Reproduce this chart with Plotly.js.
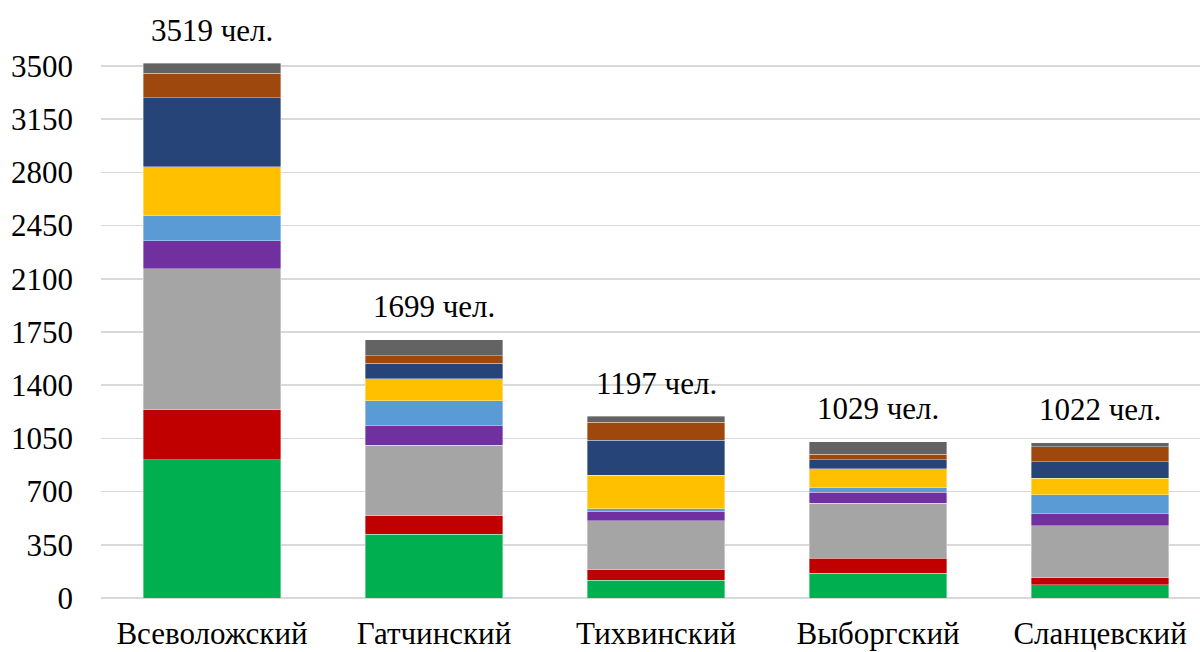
<!DOCTYPE html>
<html>
<head>
<meta charset="utf-8">
<script src="https://cdn.plot.ly/plotly-3.0.1.min.js"></script>
<style>html,body{margin:0;padding:0;background:#fff;}#chart{width:1200px;height:652px;}</style>
</head>
<body>
<div id="chart"></div>
<script>
const categories = ["Всеволожский", "Гатчинский", "Тихвинский", "Выборгский", "Сланцевский"];
const totals = [3519, 1699, 1197, 1029, 1022];
const seriesNames = ["Категория 1", "Категория 2", "Категория 3", "Категория 4", "Категория 5", "Категория 6", "Категория 7", "Категория 8", "Категория 9"];
const s1 = [908, 421, 116, 162, 88];
const s2 = [331, 120, 70, 99, 46];
const s3 = [927, 463, 321, 362, 342];
const s4 = [185, 130, 61, 74, 79];
const s5 = [164, 164, 18, 29, 125];
const s6 = [321, 145, 223, 125, 107];
const s7 = [456, 101, 228, 59, 110];
const s8 = [160, 50, 119, 35, 98];
const s9 = [67, 105, 41, 84, 27];
const yTicks = [0, 350, 700, 1050, 1400, 1750, 2100, 2450, 2800, 3150, 3500];

const colors = ["#00B050", "#C00000", "#A5A5A5", "#7030A0", "#5B9BD5", "#FFC000", "#264478", "#9E480E", "#636363"];
const series = [s1, s2, s3, s4, s5, s6, s7, s8, s9];
const FONT = "Liberation Serif";

const traces = series.map((vals, i) => ({
  type: 'bar',
  name: seriesNames[i],
  x: categories,
  y: vals,
  marker: {color: colors[i], line: {color: 'rgba(255,255,255,0.45)', width: 0.8}},
  hoverinfo: 'x+y+name'
}));

const annotations = categories.map((c, i) => ({
  x: c, y: totals[i], xref: 'x', yref: 'y',
  text: totals[i] + ' чел.',
  showarrow: false, yanchor: 'middle', yshift: 33,
  font: {family: FONT, size: 31, color: '#000'}
}));

const layout = {
  width: 1200, height: 652,
  margin: {l: 101, r: 0, t: 10, b: 54},
  barmode: 'stack',
  bargap: 0.38,
  showlegend: false,
  paper_bgcolor: '#fff', plot_bgcolor: '#fff',
  font: {family: FONT, size: 31, color: '#000'},
  xaxis: {
    range: [-0.5, 4.45],
    showgrid: false, zeroline: false, showline: false,
    ticks: '', ticklabelstandoff: 14,
    tickfont: {family: FONT, size: 31, color: '#000'}
  },
  yaxis: {
    range: [0, 3868.4],
    tickmode: 'array', tickvals: yTicks, ticktext: yTicks.map(String),
    showgrid: true, gridcolor: '#d9d9d9', gridwidth: 1.5,
    zeroline: true, zerolinecolor: '#d9d9d9', zerolinewidth: 1.5,
    showline: false, ticks: '', ticklabelstandoff: 27,
    tickfont: {family: FONT, size: 31, color: '#000'}
  },
  annotations: annotations
};

Plotly.newPlot('chart', traces, layout, {displayModeBar: false, staticPlot: true});
</script>
</body>
</html>
